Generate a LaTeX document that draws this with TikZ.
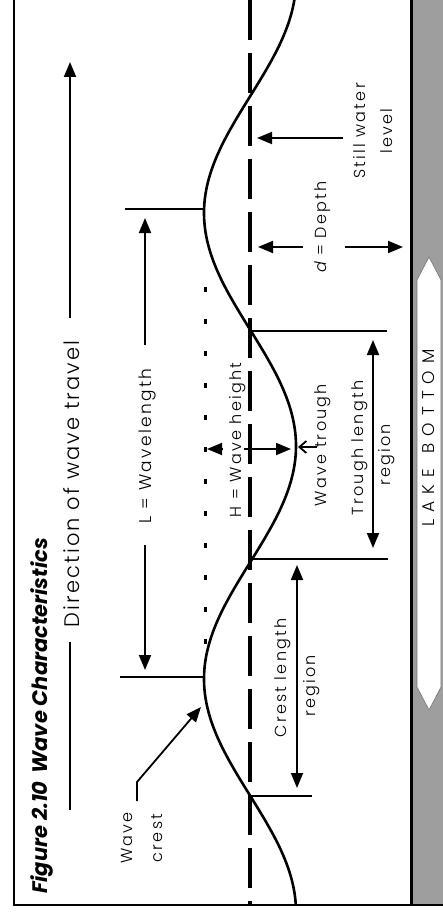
\documentclass[tikz,border=0pt]{standalone}
\usepackage{fontspec}
\usetikzlibrary{arrows.meta}
\IfFontExistsTF{Poppins Light}{%
  \newfontfamily\lightfont{Poppins Light}[LetterSpace=14]%
  \newfontfamily\dirfont{Poppins Light}[LetterSpace=10]}{%
  \newfontfamily\lightfont{Poppins}[LetterSpace=14]%
  \newfontfamily\dirfont{Poppins}[LetterSpace=10]}
\newfontfamily\titlefont{Poppins}
\begin{document}
\begin{tikzpicture}[x=1pt,y=-1pt,
  lbl/.style={font=\lightfont\fontsize{17}{17}\selectfont, rotate=90, inner sep=0pt},
  arr/.style={line width=1.8pt, -{Triangle[length=15pt,width=12pt]}},
  darr/.style={line width=1.8pt, {Triangle[length=15pt,width=12pt]}-{Triangle[length=15pt,width=12pt]}},
  markline/.style={line width=1.8pt},
  border/.style={line width=2pt}]
\useasboundingbox (0,0) rectangle (443,912);
% lake bottom strip
\fill[black!38] (411,0) rectangle (443,905);
\filldraw[fill=white, draw=black!55, line width=0.6pt] (417,280) -- (429,257) -- (441,280) -- (441,687) -- (429,710) -- (417,687) -- cycle;
\draw[line width=3pt] (411,0) -- (411,905);
\node[lbl, font=\lightfont\fontsize{17}{17}\selectfont] (lake) at (429,438)
  {L\hspace{7pt}A\hspace{7pt}K\hspace{7pt}E\hspace{16pt}B\hspace{7pt}O\hspace{7pt}T\hspace{7pt}T\hspace{7pt}O\hspace{7pt}M};
% frame
\draw[border] (14,0) -- (14,905) -- (443,905);
% title
\node[rotate=90, inner sep=0pt, font=\titlefont\bfseries\itshape\fontsize{21}{21}\selectfont] (title) at (42,716) {Figure 2.10\hspace{8pt}Wave Characteristics};
% direction of travel
\node[rotate=90, inner sep=0pt, font=\dirfont\fontsize{21}{21}\selectfont] (dir) at (72,484) {Direction of wave travel};
\coordinate (dirtip) at (70,62);
\coordinate (dirend) at (70,810);
\draw[arr] (70,318) -- (dirtip);
\draw[line width=1.8pt] (70,642) -- (dirend);
% still water level dashed line
\draw[line width=4pt, dash pattern=on 40pt off 13pt] (250,0) -- (250,905);
% dotted crest line
\draw[line width=3pt, dash pattern=on 5pt off 27pt] (205,287) -- (205,645);
% wave
\draw[line width=2.6pt] plot[domain=0:905, samples=220, smooth] ({250-46*cos((\x-213)*0.772532)}, \x);
% marker lines
\coordinate (c1) at (204,209);
\coordinate (c2) at (204,677);
\coordinate (z1) at (250,331);
\coordinate (z2) at (250,559);
\coordinate (z3) at (250,796);
\draw[markline] (125,209) -- (c1);
\draw[markline] (120,677) -- (c2);
\draw[markline] (z1) -- (387,331);
\draw[markline] (z2) -- (388,559);
\draw[markline] (z3) -- (312,796);
% wavelength
\node[lbl] (ltext) at (147,446) {L = Wavelength};
\draw[arr] (145,345) -- (145,218);
\draw[arr] (145,545) -- (145,670);
% wave crest
\node[lbl, align=center, font=\lightfont\fontsize{16}{30}\selectfont] (crest) at (142,838) {Wave\\crest};
\coordinate (crestknee) at (137,782);
\coordinate (crestpt) at (201,707);
\draw[line width=1.8pt, -{Triangle[length=15pt,width=12pt]}] (137,801) -- (crestknee) -- (crestpt);
% wave height
\node[lbl, font=\lightfont\fontsize{16}{16}\selectfont] (htext) at (238,440) {H = Wave height};
\draw[arr] (223,449) -- (207,449);
\draw[arr] (244,449) -- (291,449);
% wave trough
\node[lbl, font=\lightfont\fontsize{16}{16}\selectfont] (trough) at (323,445) {Wave trough};
\draw[line width=1.8pt, -{Straight Barb[length=7pt,width=12pt]}] (317,447) -- (298,447);
% crest length region
\node[lbl, font=\lightfont\fontsize{16}{16}\selectfont] (cl1) at (283,678) {Crest length};
\node[lbl, font=\lightfont\fontsize{16}{16}\selectfont] (cl2) at (312,686) {region};
\draw[darr] (297,565) -- (297,788);
% trough length region
\node[lbl, font=\lightfont\fontsize{16}{16}\selectfont] (tl1) at (360,448) {Trough length};
\node[lbl, font=\lightfont\fontsize{16}{16}\selectfont] (tl2) at (387,455) {region};
\draw[darr] (373,340) -- (373,548);
% depth
\node[lbl, font=\lightfont\fontsize{16}{16}\selectfont] (dtext) at (323,227) {{\itshape d} = Depth};
\draw[arr] (303,247) -- (258,247);
\draw[arr] (345,247) -- (403,247);
% still water level label
\node[lbl, font=\lightfont\fontsize{16}{16}\selectfont] (sw1) at (360,131) {Still water};
\node[lbl, font=\lightfont\fontsize{16}{16}\selectfont] (sw2) at (387,131) {level};
\draw[arr] (343,138) -- (257,138);
\end{tikzpicture}
\end{document}
